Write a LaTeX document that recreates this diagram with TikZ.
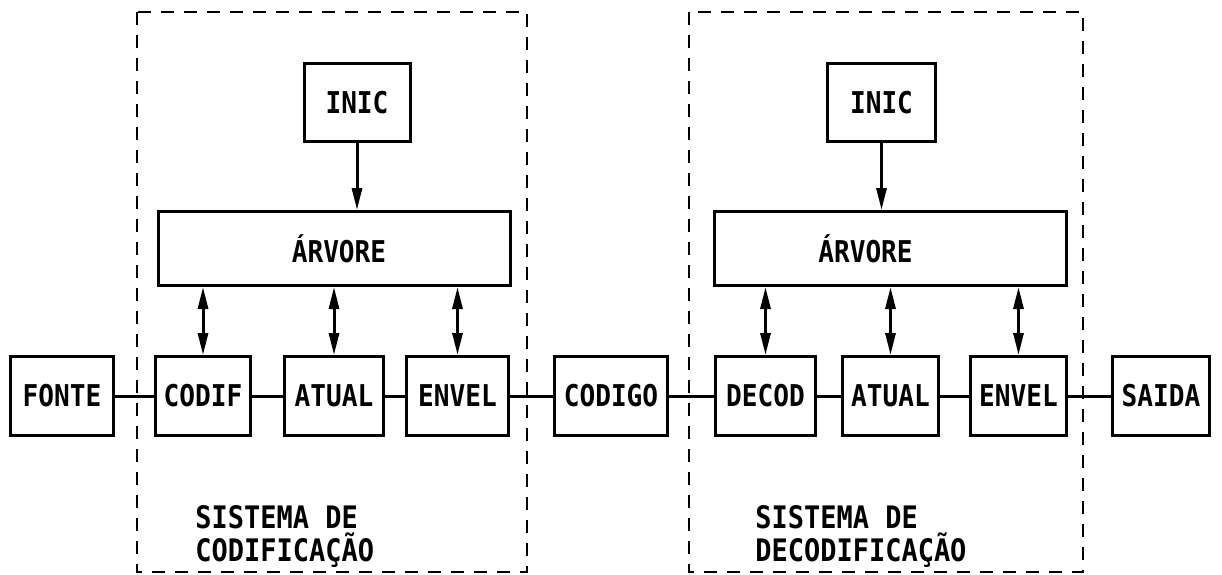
\documentclass[tikz,border=0pt]{standalone}
\usepackage{fontspec}
\setmainfont{DejaVu Sans Mono}[FakeStretch=0.87]
\usepackage{tikz}
\usetikzlibrary{arrows.meta, positioning, calc}

\begin{document}
\begin{tikzpicture}[
  x=0.5pt, y=-0.5pt,
  blk/.style={rectangle, draw, line width=1.5pt, minimum width=48.5pt, minimum height=39.5pt, inner sep=2pt, align=center, font=\fontsize{15}{16}\selectfont\bfseries},
  arvblk/.style={blk, minimum width=176pt, minimum height=37pt},
  arr/.style={-{Triangle[length=11pt, width=5pt]}, line width=1.5pt},
  dblarr/.style={{Triangle[length=11pt, width=5pt]}-{Triangle[length=11pt, width=5pt]}, line width=1.5pt},
  link/.style={line width=1.5pt},
  sysframe/.style={draw, dash pattern=on 6.5pt off 5pt, line width=1.1pt},
  note/.style={align=left, anchor=north west, inner sep=0pt, font=\fontsize{15.5}{16.5}\selectfont\bfseries},
]
\useasboundingbox (0,0) rectangle (1222,574);

% row of blocks
\node[blk, minimum width=51.5pt] (fonte) at (62,396) {FONTE};
\node[blk, minimum width=47.5pt, right=19.5pt of fonte] (codif) {CODIF};
\node[blk, minimum width=49.5pt, right=15.5pt of codif] (atual1) {ATUAL};
\node[blk, minimum width=51pt, right=10pt of atual1] (envel1) {ENVEL};
\node[blk, minimum width=56.5pt, right=21.5pt of envel1] (codigo) {CODIGO};
\node[blk, minimum width=50pt, right=22.5pt of codigo] (decod) {DECOD};
\node[blk, minimum width=48pt, right=12pt of decod] (atual2) {ATUAL};
\node[blk, minimum width=48pt, right=14.5pt of atual2] (envel2) {ENVEL};
\node[blk, minimum width=48.5pt, right=21.5pt of envel2] (saida) {SAIDA};

% tree and init blocks
\node[arvblk, above=34pt of atual1] (arv1) {\hspace*{5pt}ÁRVORE};
\node[arvblk, above=34pt of atual2] (arv2) {ÁRVORE\hspace*{25pt}};
\node[blk, minimum width=53pt, minimum height=39pt, above=33.5pt of arv1, xshift=11.5pt] (inic1) {INIC};
\node[blk, minimum width=54pt, minimum height=39pt, above=33.5pt of arv2, xshift=-4.5pt] (inic2) {INIC};

% system frames
\draw[sysframe] (137,12) rectangle (527,572);
\draw[sysframe] (689,12) rectangle (1083,572);
\node[note] (notecod) at (195,505) {SISTEMA DE\\CODIFICAÇÃO};
\node[note] (notedec) at (755,505) {SISTEMA DE\\DECODIFICAÇÃO};

% Arrows
\draw[arr] (inic1.south) -- (inic1.south |- arv1.north);
\draw[arr] (inic2.south) -- (inic2.south |- arv2.north);
\draw[dblarr] (codif.north) -- (codif.north |- arv1.south);
\draw[dblarr] (atual1.north) -- (atual1.north |- arv1.south);
\draw[dblarr] (envel1.north) -- (envel1.north |- arv1.south);
\draw[dblarr] (decod.north) -- (decod.north |- arv2.south);
\draw[dblarr] (atual2.north) -- (atual2.north |- arv2.south);
\draw[dblarr] (envel2.north) -- (envel2.north |- arv2.south);

% Links
\draw[link] (fonte) -- (codif);
\draw[link] (codif) -- (atual1);
\draw[link] (atual1) -- (envel1);
\draw[link] (envel1) -- (codigo);
\draw[link] (codigo) -- (decod);
\draw[link] (decod) -- (atual2);
\draw[link] (atual2) -- (envel2);
\draw[link] (envel2) -- (saida);
\end{tikzpicture}
\end{document}
